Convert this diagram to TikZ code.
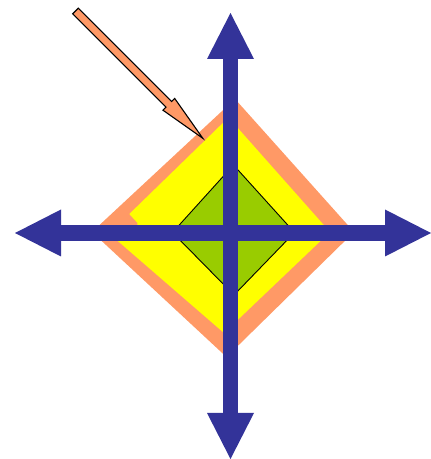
\documentclass[tikz,border=0pt]{standalone}
\usetikzlibrary{arrows.meta}
\definecolor{crossblue}{HTML}{333399}
\definecolor{rim}{HTML}{FF9966}
\definecolor{lemon}{HTML}{FFFF00}
\definecolor{leaf}{HTML}{99CC00}
\tikzset{
  bigtip/.style={Triangle[length=46pt,width=47pt,line width=0pt]},
  crossbar/.style={crossblue, line width=15.6pt, {Triangle[length=46pt,width=47pt,line width=0pt]}-{Triangle[length=46pt,width=47pt,line width=0pt]}}
}
\begin{document}
\begin{tikzpicture}[x=1pt, y=1pt, line join=miter]
\useasboundingbox (0,0) rectangle (431,459);
\def\cx{230.5} \def\cy{226}

% ================= layered diamond =================
% orange rim, yellow body (with the little step on the left), green core
\fill[rim] (92,227) -- (235,360) -- (354,227) -- (226.5,102) -- cycle;
\fill[lemon] (228.5,341.5) -- (330,227) -- (224,126) -- (112,223) -- (137.5,232)
  -- (137.3,236.3) -- (129.3,245) -- cycle;
\draw[black, line width=.9pt, fill=leaf] (233.5,294) -- (294.5,226.5) -- (234,164) -- (172.5,226.5) -- cycle;

% ================= cross =================
\draw[crossbar] (15,\cy) -- (431,\cy);
\draw[crossbar] (\cx,446) -- (\cx,0);

% ================= pointer =================
\begin{scope}[shift={(75.5,448)}, rotate=-45]
  \draw[black, line width=1.1pt, fill=rim]
    (0,-4) -- (132,-4) -- (132,-8.3) -- (180,0) -- (132,8.3) -- (132,4) -- (0,4) -- cycle;
\end{scope}

\end{tikzpicture}
\end{document}
